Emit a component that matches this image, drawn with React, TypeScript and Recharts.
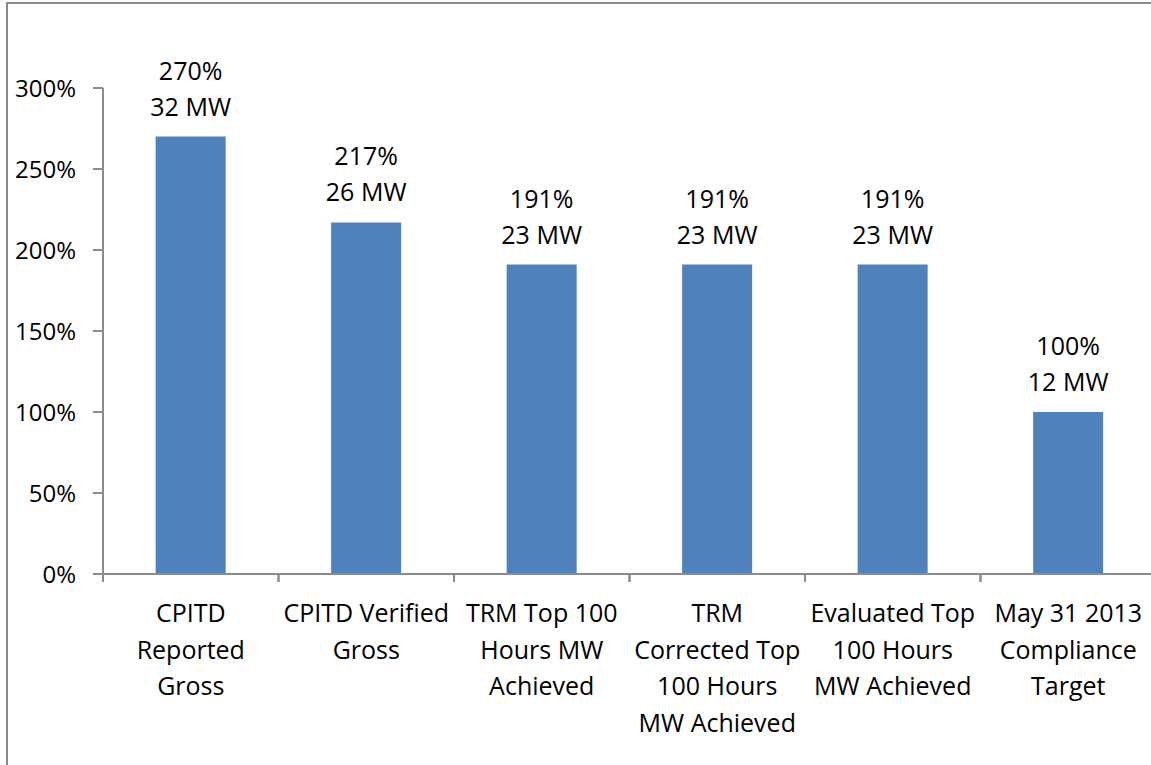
import React from 'react';
import { BarChart, Bar, XAxis, YAxis, LabelList } from 'recharts';

const categories = [
  'CPITD|Reported|Gross',
  'CPITD Verified|Gross',
  'TRM Top 100|Hours MW|Achieved',
  'TRM|Corrected Top|100 Hours|MW Achieved',
  'Evaluated Top|100 Hours|MW Achieved',
  'May 31 2013|Compliance|Target',
];
const percentValues = [270, 217, 191, 191, 191, 100];
const mwValues = [32, 26, 23, 23, 23, 12];
const yTicks = [0, 50, 100, 150, 200, 250, 300];

const data = categories.map((name, i) => ({
  name,
  pct: percentValues[i],
  mw: mwValues[i],
}));

const FONT = '"Open Sans", Lato, sans-serif';
const AXIS = '#8c8c8c';

const CategoryTick = (props: any) => {
  const { x, y, payload, width, visibleTicksCount } = props;
  const lines = String(payload.value).split('|');
  const step = width && visibleTicksCount ? width / visibleTicksCount : 175.5;
  return (
    <g transform={`translate(${x},${y})`}>
      <line x1={-step / 2} x2={-step / 2} y1={0} y2={8} stroke={AXIS} strokeWidth={2} />
      <line x1={step / 2} x2={step / 2} y1={0} y2={8} stroke={AXIS} strokeWidth={2} />
      {lines.map((line, i) => (
        <text
          key={i}
          x={0}
          y={48 + i * 36.5}
          textAnchor="middle"
          fill="#000"
          fontSize={25}
          fontFamily={FONT}
        >
          {line}
        </text>
      ))}
    </g>
  );
};

const BarLabel = (props: any) => {
  const { x, y, width, index } = props;
  const cx = x + width / 2;
  return (
    <g>
      <text x={cx} y={y - 57} textAnchor="middle" fill="#000" fontSize={25} fontFamily={FONT}>
        {percentValues[index]}%
      </text>
      <text x={cx} y={y - 21} textAnchor="middle" fill="#000" fontSize={25} fontFamily={FONT}>
        {mwValues[index]} MW
      </text>
    </g>
  );
};

const App: React.FC = () => {
  return (
    <div
      style={{
        position: 'absolute',
        left: 0,
        top: 0,
        width: 1151,
        height: 765,
        overflow: 'hidden',
        background: '#fff',
      }}
    >
      <div
        style={{
          position: 'absolute',
          left: 6,
          top: 2,
          width: 1200,
          height: 800,
          border: '2px solid #8c8c8c',
          boxSizing: 'border-box',
        }}
      />
      <div style={{ position: 'absolute', left: 0, top: 0 }}>
        <BarChart
          width={1160}
          height={765}
          data={data}
          margin={{ top: 88, right: 4, left: 0, bottom: 0 }}
          barCategoryGap="30%"
        >
          <XAxis
            dataKey="name"
            height={191}
            interval={0}
            tick={<CategoryTick />}
            tickLine={false}
            tickSize={0}
            tickMargin={0}
            axisLine={{ stroke: AXIS, strokeWidth: 2 }}
          />
          <YAxis
            width={103}
            domain={[0, 300]}
            ticks={yTicks}
            tickFormatter={(v: number) => `${v}%`}
            tick={{ fill: '#000', fontSize: 24, fontFamily: FONT }}
            tickSize={10}
            tickMargin={17}
            tickLine={{ stroke: AXIS, strokeWidth: 2 }}
            axisLine={{ stroke: AXIS, strokeWidth: 2 }}
          />
          <Bar dataKey="pct" fill="#4F81BD" isAnimationActive={false}>
            <LabelList dataKey="pct" content={<BarLabel />} />
          </Bar>
        </BarChart>
      </div>
    </div>
  );
};

export default App;
